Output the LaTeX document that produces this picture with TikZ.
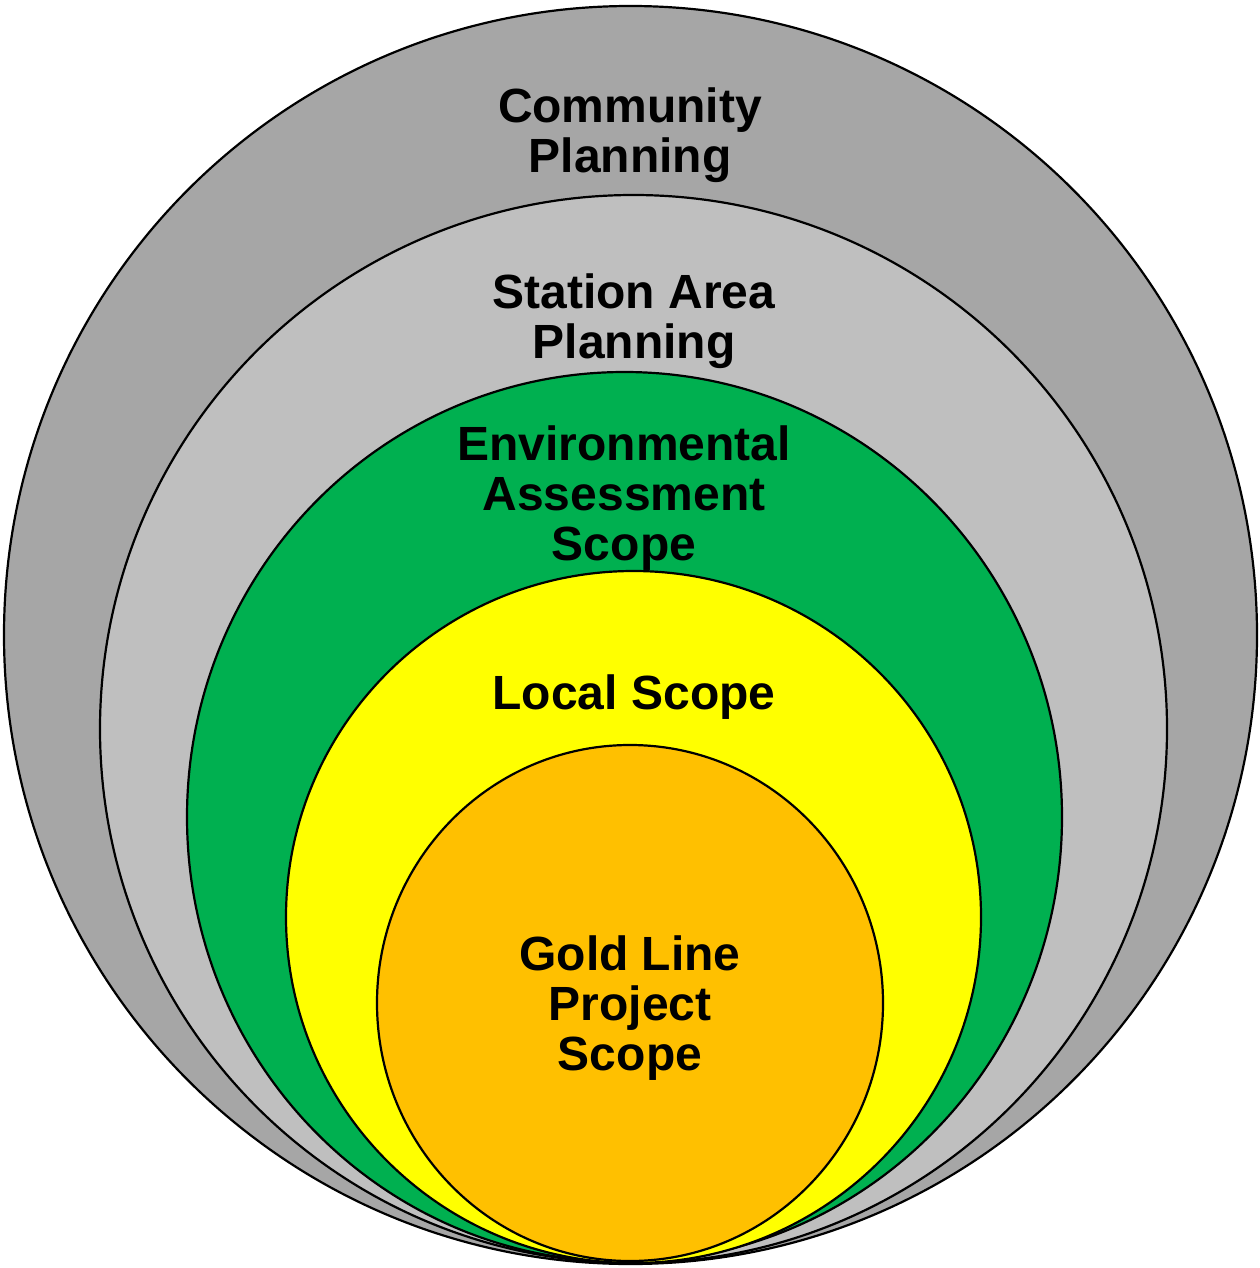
\documentclass[tikz,border=0pt]{standalone}
\usepackage{fontspec}
\setmainfont{Liberation Sans}
\begin{document}
\begin{tikzpicture}[x=1pt,y=-1pt,
  ring/.style={draw=black,line width=2.2pt},
  lbl/.style={align=center,font=\fontsize{48}{50}\selectfont\bfseries,inner sep=0pt}]
\definecolor{outergray}{HTML}{A6A6A6}
\definecolor{innergray}{HTML}{BFBFBF}
\definecolor{envgreen}{HTML}{00B050}
\definecolor{locyellow}{HTML}{FFFF00}
\definecolor{goldor}{HTML}{FFC000}
\useasboundingbox (0,0) rectangle (1259,1268);
\draw[ring,fill=outergray] (630.5,635) ellipse [x radius=626.5, y radius=629];
\draw[ring,fill=innergray] (633.5,729) ellipse [x radius=533.5, y radius=534];
\draw[ring,fill=envgreen] (624.5,817) ellipse [x radius=437.5, y radius=445];
\draw[ring,fill=locyellow] (633.5,917) ellipse [x radius=347.5, y radius=346];
\draw[ring,fill=goldor] (630,1003) ellipse [x radius=253, y radius=258];
\node[lbl] (community) at (630,135) {Community\\Planning};
\node[lbl] (station) at (634,321) {Station Area\\Planning};
\node[lbl] (env) at (624,498) {Environmental\\Assessment\\Scope};
\node[lbl] (local) at (634,697) {Local Scope};
\node[lbl] (gold) at (630,1008) {Gold Line\\Project\\Scope};
\end{tikzpicture}
\end{document}
